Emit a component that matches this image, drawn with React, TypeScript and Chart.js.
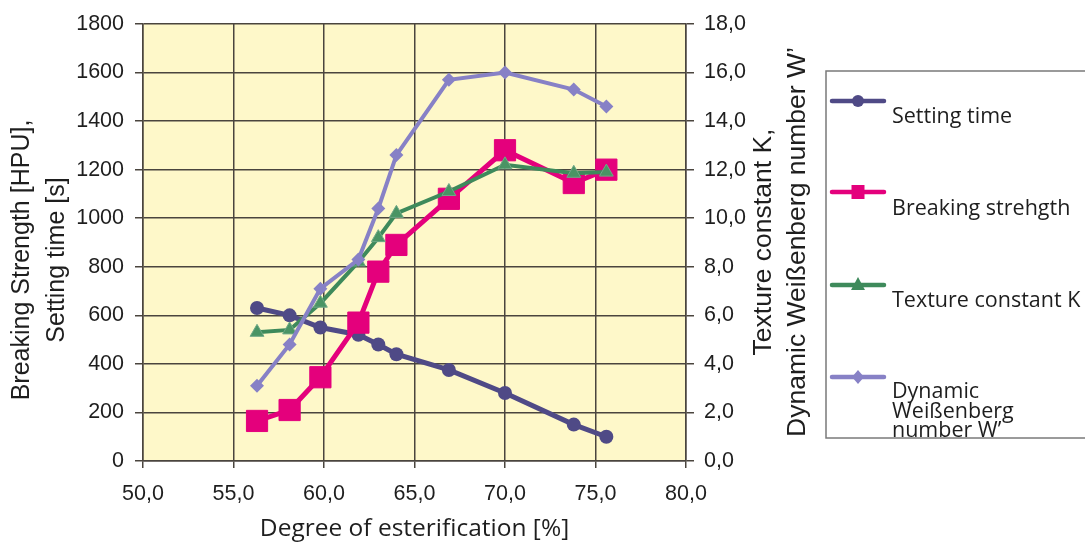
import React, { useEffect, useRef } from "react";
import { Chart, registerables } from "chart.js";

Chart.register(...registerables);

// ---- data ----
const esterification = [56.3, 58.1, 59.8, 61.9, 63.0, 64.0, 66.9, 70.0, 73.8, 75.6];
const settingTime = [630, 600, 550, 520, 480, 440, 375, 280, 150, 100];
const breakingStrength = [165, 210, 345, 570, 780, 890, 1080, 1280, 1145, 1200];
const textureConstantK = [5.3, 5.4, 6.5, 8.2, 9.2, 10.2, 11.1, 12.2, 11.85, 11.9];
const weissenbergNumber = [3.1, 4.8, 7.1, 8.3, 10.4, 12.6, 15.7, 16.0, 15.3, 14.6];

const xTicks = [50, 55, 60, 65, 70, 75, 80];
const leftTicks = [0, 200, 400, 600, 800, 1000, 1200, 1400, 1600, 1800];
const rightTicks = [0, 2, 4, 6, 8, 10, 12, 14, 16, 18];

const seriesNames = ["Setting time", "Breaking strehgth", "Texture constant K", "Dynamic Weißenberg number W’"];
const legendLines = [["Setting time"], ["Breaking strehgth"], ["Texture constant K"], ["Dynamic", "Weißenberg", "number W’"]];
const xTitle = "Degree of esterification [%]";
const leftTitle = ["Breaking Strength [HPU],", "Setting time [s]"];
const rightTitle = ["Texture constant K,", "Dynamic Weißenberg number W’"];

const colors = {
  setting: "#4f4a86",
  breaking: "#e4007c",
  texture: "#3e8a5b",
  weiss: "#8781c6",
  bg: "#fef8c9",
  grid: "#4a453e",
  text: "#1e1e1e",
};

const fmt1 = (v: number) => v.toFixed(1).replace(".", ",");
const pts = (ys: number[]) => ys.map((y, i) => ({ x: esterification[i], y }));

const TICK_FONT = { family: "'Liberation Sans', Arial, sans-serif", size: 21.5 };

function drawMarker(ctx: CanvasRenderingContext2D, kind: string, x: number, y: number, color: string) {
  ctx.fillStyle = color;
  ctx.beginPath();
  if (kind === "circle") {
    ctx.arc(x, y, 6, 0, Math.PI * 2);
  } else if (kind === "rect") {
    ctx.rect(x - 6.5, y - 7, 13, 14);
  } else if (kind === "triangle") {
    ctx.moveTo(x, y - 8);
    ctx.lineTo(x + 7, y + 5);
    ctx.lineTo(x - 7, y + 5);
    ctx.closePath();
  } else {
    ctx.moveTo(x, y - 7);
    ctx.lineTo(x + 6, y);
    ctx.lineTo(x, y + 7);
    ctx.lineTo(x - 6, y);
    ctx.closePath();
  }
  ctx.fill();
}

const decorPlugin = {
  id: "decor",
  beforeDraw(chart: any) {
    const { ctx, chartArea } = chart;
    ctx.save();
    ctx.fillStyle = "#ffffff";
    ctx.fillRect(0, 0, chart.width, chart.height);
    ctx.fillStyle = colors.bg;
    ctx.fillRect(chartArea.left, chartArea.top, chartArea.right - chartArea.left, chartArea.bottom - chartArea.top);
    ctx.restore();
  },
  afterDraw(chart: any) {
    const { ctx, chartArea } = chart;
    ctx.save();
    ctx.fillStyle = colors.text;
    // x title
    ctx.font = "24.5px 'Open Sans', 'Noto Sans', sans-serif";
    ctx.textAlign = "center";
    ctx.textBaseline = "alphabetic";
    ctx.fillText(xTitle, (chartArea.left + chartArea.right) / 2, 536);

    // left title
    ctx.font = "25px 'Liberation Sans', Arial, sans-serif";
    ctx.textBaseline = "middle";
    const leftX = [22, 57];
    leftTitle.forEach((t, i) => {
      ctx.save();
      ctx.translate(leftX[i], 260);
      ctx.rotate(-Math.PI / 2);
      ctx.fillText(t, 0, 0);
      ctx.restore();
    });
    // right title
    ctx.font = "26.5px 'Liberation Sans', Arial, sans-serif";
    const rightX = [764, 798];
    rightTitle.forEach((t, i) => {
      ctx.save();
      ctx.translate(rightX[i], 242);
      ctx.rotate(-Math.PI / 2);
      ctx.fillText(t, 0, 0);
      ctx.restore();
    });

    // legend box
    ctx.strokeStyle = "#7a7a7a";
    ctx.lineWidth = 1.5;
    ctx.strokeRect(826, 71, 300, 367);

    const items = [
      { color: colors.setting, marker: "circle", y: 101, base: 123 },
      { color: colors.breaking, marker: "rect", y: 192, base: 215 },
      { color: colors.texture, marker: "triangle", y: 285, base: 307 },
      { color: colors.weiss, marker: "diamond", y: 377, base: 398 },
    ];
    items.forEach((it, i) => {
      ctx.strokeStyle = it.color;
      ctx.lineWidth = 4.5;
      ctx.lineCap = "round";
      ctx.beginPath();
      ctx.moveTo(832, it.y);
      ctx.lineTo(884, it.y);
      ctx.stroke();
      drawMarker(ctx, it.marker, 858, it.y, it.color);
      ctx.fillStyle = colors.text;
      ctx.font = "21.5px 'Open Sans', 'Noto Sans', sans-serif";
      ctx.textAlign = "left";
      ctx.textBaseline = "alphabetic";
      legendLines[i].forEach((ln, j) => {
        ctx.fillText(ln, 892, it.base + j * 19.5);
      });
    });
    ctx.restore();
  },
};

export default function App() {
  const canvasRef = useRef<HTMLCanvasElement>(null);

  useEffect(() => {
    if (!canvasRef.current) return;
    const gridOpts = {
      color: colors.grid,
      lineWidth: 1.5,
      tickColor: colors.grid,
    };
    const chart = new Chart(canvasRef.current, {
      type: "line",
      data: {
        datasets: [
          {
            label: seriesNames[0],
            data: pts(settingTime),
            yAxisID: "y",
            borderColor: colors.setting,
            backgroundColor: colors.setting,
            borderWidth: 5,
            pointStyle: "circle",
            pointRadius: 7,
            pointBorderWidth: 0,
            order: 3,
          },
          {
            label: seriesNames[1],
            data: pts(breakingStrength),
            yAxisID: "y",
            borderColor: colors.breaking,
            backgroundColor: colors.breaking,
            borderWidth: 5,
            pointStyle: "rect",
            pointRadius: 15,
            pointBorderWidth: 1,
            order: 2,
          },
          {
            label: seriesNames[2],
            data: pts(textureConstantK),
            yAxisID: "y2",
            borderColor: colors.texture,
            backgroundColor: "#4a9464",
            borderWidth: 4,
            pointStyle: "triangle",
            pointRadius: 8,
            pointBorderWidth: 1,
            pointBorderColor: "#6fa887",
            order: 1,
          },
          {
            label: seriesNames[3],
            data: pts(weissenbergNumber),
            yAxisID: "y2",
            borderColor: colors.weiss,
            backgroundColor: colors.weiss,
            borderWidth: 4,
            pointStyle: "rectRot",
            pointRadius: 7,
            pointBorderWidth: 0,
            order: 0,
          },
        ],
      },
      options: {
        animation: false,
        responsive: false,
        maintainAspectRatio: false,
        layout: { padding: { top: 24, left: 0, right: 0, bottom: 0 } },
        plugins: { legend: { display: false }, tooltip: { enabled: false } },
        scales: {
          x: {
            type: "linear",
            position: "bottom",
            min: 50,
            max: 80,
            afterBuildTicks: (s: any) => {
              s.ticks = xTicks.map((v) => ({ value: v }));
            },
            afterFit: (s: any) => {
              s.height = 83;
            },
            ticks: {
              callback: (v: any) => fmt1(Number(v)),
              font: TICK_FONT,
              color: colors.text,
              padding: 13,
              maxRotation: 0,
              autoSkip: false,
            },
            grid: { ...gridOpts, tickLength: 7 },
            border: { color: colors.grid, width: 1.5 },
          },
          y: {
            type: "linear",
            position: "left",
            min: 0,
            max: 1800,
            afterBuildTicks: (s: any) => {
              s.ticks = leftTicks.map((v) => ({ value: v }));
            },
            afterFit: (s: any) => {
              s.width = 143;
            },
            ticks: {
              callback: (v: any) => String(v),
              font: TICK_FONT,
              color: colors.text,
              padding: 11,
              autoSkip: false,
            },
            grid: { ...gridOpts, tickLength: 8 },
            border: { color: colors.grid, width: 1.5 },
          },
          y2: {
            type: "linear",
            position: "right",
            min: 0,
            max: 18,
            afterBuildTicks: (s: any) => {
              s.ticks = rightTicks.map((v) => ({ value: v }));
            },
            afterFit: (s: any) => {
              s.width = 1085 - 686;
            },
            ticks: {
              callback: (v: any) => fmt1(Number(v)),
              font: TICK_FONT,
              color: colors.text,
              padding: 10,
              autoSkip: false,
            },
            grid: { ...gridOpts, drawOnChartArea: false, tickLength: 8 },
            border: { color: colors.grid, width: 1.5 },
          },
        },
      },
      plugins: [decorPlugin],
    } as any);
    return () => chart.destroy();
  }, []);

  return (
    <div style={{ position: "fixed", left: 0, top: 0, width: 1085, height: 544, background: "#fff" }}>
      <canvas ref={canvasRef} width={1085} height={544} style={{ display: "block" }} />
    </div>
  );
}
